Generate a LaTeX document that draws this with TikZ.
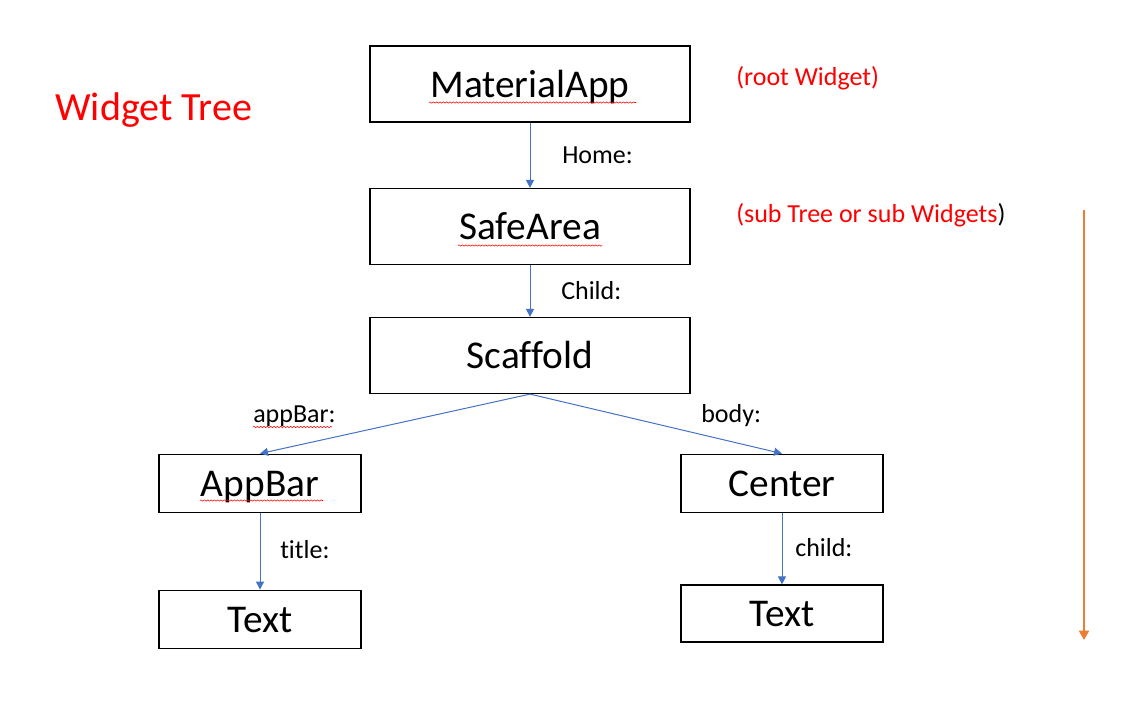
\documentclass[tikz,border=0pt]{standalone}
\usepackage{fontspec}
\setmainfont{Carlito}[Ligatures=NoCommon]
\usetikzlibrary{arrows.meta, calc, decorations.pathmorphing}
\definecolor{linkblue}{HTML}{4472C4}
\definecolor{floworange}{HTML}{ED7D31}

\begin{document}
\begin{tikzpicture}[x=0.75pt, y=-0.75pt,
    widget/.style={draw, line width=0.9pt, minimum width=240pt, minimum height=57pt,
        inner sep=0pt, text height=26.5pt, text depth=6.5pt, font=\fontsize{29.5}{35}\selectfont},
    leaf/.style={widget, minimum width=151.5pt, minimum height=44pt},
    key/.style={anchor=base west, inner sep=0pt, font=\fontsize{19.5}{23}\selectfont},
    note/.style={key, text=red},
    link/.style={-{Triangle[length=6pt, width=6pt]}, linkblue, line width=0.75pt},
    squiggle/.style={red, line width=0.4pt, decorate,
        decoration={snake, amplitude=0.5pt, segment length=2.5pt}}]
    \useasboundingbox (0,0) rectangle (1128,708);

    % heading and notes
    \node (heading) at (55,120) [anchor=base west, inner sep=0pt, text=red,
        font=\fontsize{30}{36}\selectfont] {Widget Tree};
    \node (root) at (736,85) [note] {(root Widget)};
    \node (sub) at (736,222) [note] {(sub Tree or sub Widgets\textcolor{black}{)}};

    % widget boxes
    \node[widget] (MA) at (530,84) {MaterialApp};
    \node[widget] (SA) at (530,226.5) {SafeArea};
    \node[widget] (SF) at (530,355.5) {Scaffold};
    \node[leaf] (AB) at (260,483.5) {AppBar};
    \node[leaf] (CE) at (782,483.5) {Center};
    \node[leaf] (T1) at (260,619.5) {Text};
    \node[leaf, minimum height=42.75pt] (T2) at (782,613.5) {Text};

    % connectors
    \draw[link] (MA) -- (SA);
    \draw[link] (SA) -- (SF);
    \draw[link] (SF.south) -- (AB.north);
    \draw[link] (SF.south) -- (CE.north);
    \draw[link] (AB) -- (T1);
    \draw[link] (CE) -- (T2);

    % property names
    \node (home) at (562,163) [key] {Home:};
    \node (child) at (561,299) [key] {Child:};
    \node (appbar) at (253,422) [key] {appBar:};
    \node (body) at (701,422) [key] {body:};
    \node (title) at (280,558) [key] {title:};
    \node (child2) at (795,556) [key] {child:};

    % spelling marks
    \draw[squiggle] ($(MA.center)+(-101,18.5)$) -- ($(MA.center)+(106,18.5)$);
    \draw[squiggle] ($(SA.center)+(-72,19)$) -- ($(SA.center)+(72,19)$);
    \draw[squiggle] ($(AB.center)+(-60,17)$) -- ($(AB.center)+(63,17)$);
    \draw[squiggle] ($(appbar.base west)+(0,5)$) -- ($(appbar.base east)+(-4,5)$);

    % direction of the tree
    \coordinate (top) at (1084,210);
    \coordinate (bottom) at (1084,640);
    \draw[-{Triangle[length=7pt, width=7.5pt]}, floworange, line width=1.5pt] (top) -- (bottom);
\end{tikzpicture}
\end{document}
